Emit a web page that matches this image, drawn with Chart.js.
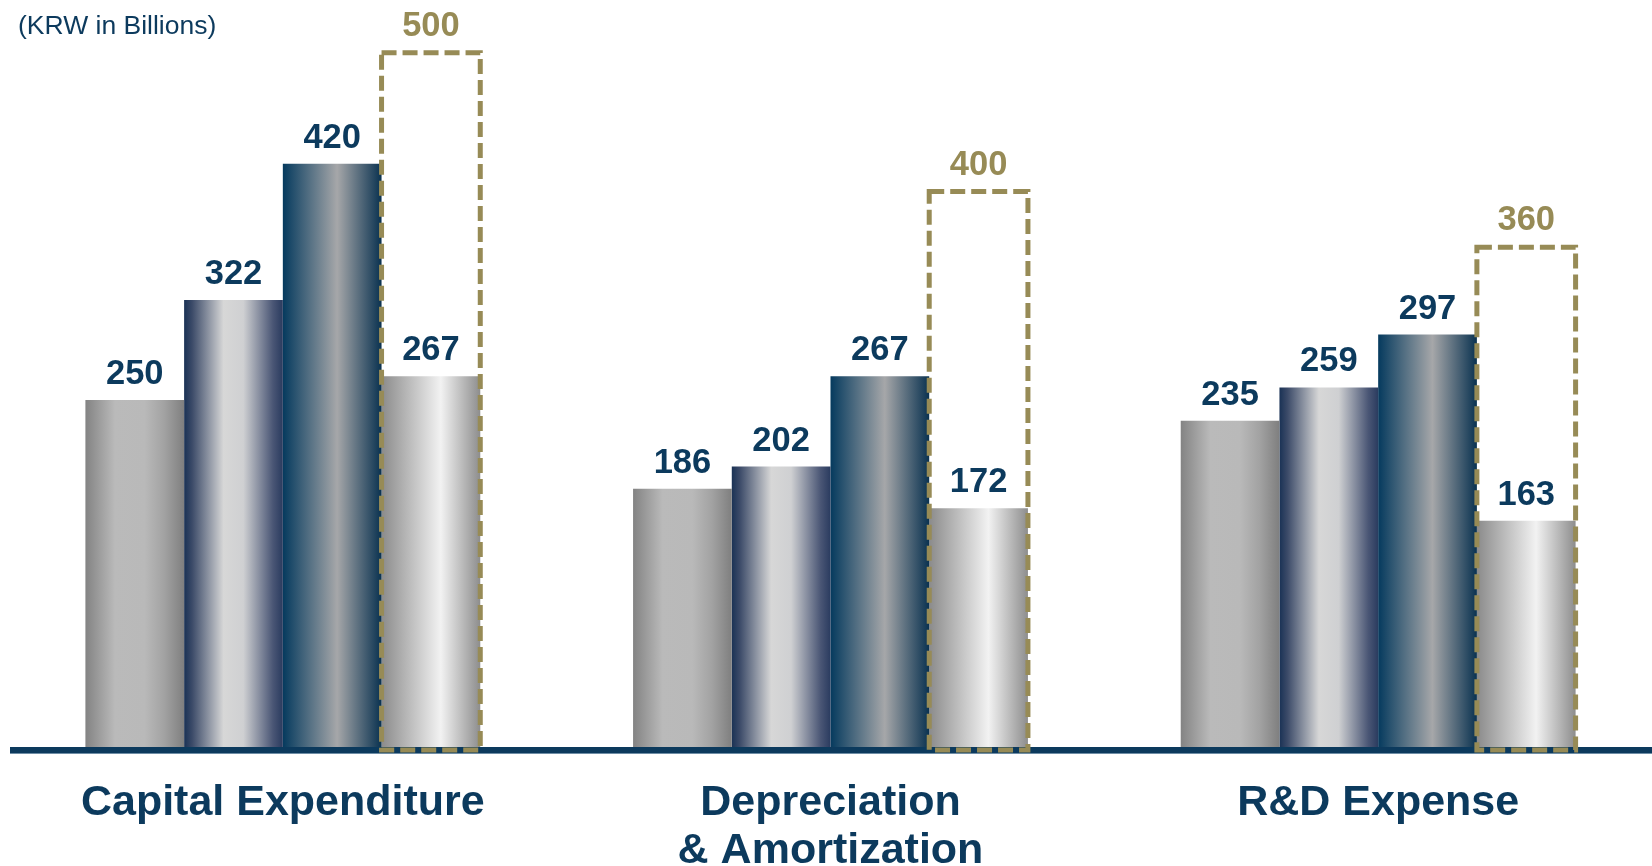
<!DOCTYPE html>
<html lang="en">
<head>
  <meta charset="UTF-8" />
  <title>KRW in Billions</title>
  <script src="https://cdn.jsdelivr.net/npm/chart.js"></script>
  <style>
    html, body { margin: 0; padding: 0; background: #fff; }
    canvas { display: block; }
  </style>
</head>
<body>
  <canvas id="chart" width="1652" height="866"></canvas>

  <script>
    // data
    const categories = ['Capital Expenditure', ['Depreciation', '& Amortization'], 'R&D Expense'];
    const series1 = [250, 186, 235];
    const series2 = [322, 202, 259];
    const series3 = [420, 267, 297];
    const series4 = [267, 172, 163];
    const targets = [500, 400, 360];
    const unitLabel = '(KRW in Billions)';

    const navy = '#0c3a5d';
    const gold = '#978b56';
    const fontFamily = '"Liberation Sans", Arial, sans-serif';

    // horizontal "cylinder" shading for each series
    const shades = [
      [[0, '#838383'], [0.3, '#bababa'], [0.6, '#b9b9b9'], [0.8, '#a2a2a2'], [1, '#7f7f7f']],
      [[0, '#1a3255'], [0.08, '#3b4a68'], [0.4, '#d7d7d7'], [0.6, '#cfd0d2'], [0.9, '#4a5675'], [1, '#2a3b5f']],
      [[0, '#053a5e'], [0.55, '#a6a7a9'], [1, '#0a3250']],
      [[0, '#8b8b8b'], [0.6, '#f2f2f2'], [1, '#8d8d8d']]
    ];

    const decor = {
      id: 'decor',
      beforeDatasetsDraw(chart) {
        const ctx = chart.ctx;
        for (let d = 0; d < 4; d++) {
          chart.getDatasetMeta(d).data.forEach(el => {
            const { x, width } = el.getProps(['x', 'width'], true);
            const g = ctx.createLinearGradient(x - width / 2, 0, x + width / 2, 0);
            shades[d].forEach(s => g.addColorStop(s[0], s[1]));
            el.options = Object.assign({}, el.options, { backgroundColor: g });
          });
        }
      },
      afterDatasetsDraw(chart) {
        const ctx = chart.ctx;
        const area = chart.chartArea;
        ctx.save();

        // axis line
        ctx.fillStyle = navy;
        ctx.fillRect(10, area.bottom, chart.width - 10, 6);
        ctx.fillStyle = '#6f8ea6';
        ctx.fillRect(10, area.bottom + 6, chart.width - 10, 1);

        // dashed target boxes
        ctx.strokeStyle = gold;
        ctx.lineWidth = 5;
        ctx.setLineDash([15, 6]);
        chart.getDatasetMeta(4).data.forEach(el => {
          const { x, y, base, width } = el.getProps(['x', 'y', 'base', 'width'], true);
          ctx.strokeRect(x - width / 2, y, width, base + 3 - y);
        });
        ctx.setLineDash([]);

        // value labels
        ctx.font = 'bold 34.5px ' + fontFamily;
        ctx.textAlign = 'center';
        ctx.textBaseline = 'alphabetic';
        for (let d = 0; d < 5; d++) {
          const values = chart.data.datasets[d].data;
          ctx.fillStyle = d === 4 ? gold : navy;
          chart.getDatasetMeta(d).data.forEach((el, i) => {
            ctx.fillText(String(values[i]), el.x, el.y - (d === 4 ? 17 : 16));
          });
        }

        // unit note
        ctx.font = '26.5px ' + fontFamily;
        ctx.textAlign = 'left';
        ctx.fillStyle = navy;
        ctx.fillText(unitLabel, 18, 34);
        ctx.restore();
      }
    };

    new Chart(document.getElementById('chart'), {
      type: 'bar',
      data: {
        labels: categories,
        datasets: [
          { data: series1, stack: 's1' },
          { data: series2, stack: 's2' },
          { data: series3, stack: 's3' },
          { data: series4, stack: 's4' },
          { data: targets, stack: 's4', backgroundColor: 'rgba(0,0,0,0)' }
        ]
      },
      options: {
        responsive: false,
        animation: false,
        layout: { padding: { left: 9, right: 0, top: 0, bottom: 0 } },
        datasets: {
          bar: {
            backgroundColor: '#aaaaaa',
            borderWidth: 0,
            barPercentage: 1,
            categoryPercentage: 0.721
          }
        },
        plugins: {
          legend: { display: false },
          tooltip: { enabled: false }
        },
        scales: {
          x: {
            stacked: true,
            grid: { display: false, drawTicks: false },
            border: { display: false },
            ticks: {
              color: navy,
              padding: 32,
              font: { family: fontFamily, size: 43, weight: 'bold', lineHeight: 1.12 }
            },
            afterFit(scale) { scale.height = 119; }
          },
          y: {
            stacked: false,
            display: false,
            min: 0,
            max: 538
          }
        }
      },
      plugins: [decor]
    });
  </script>
</body>
</html>
